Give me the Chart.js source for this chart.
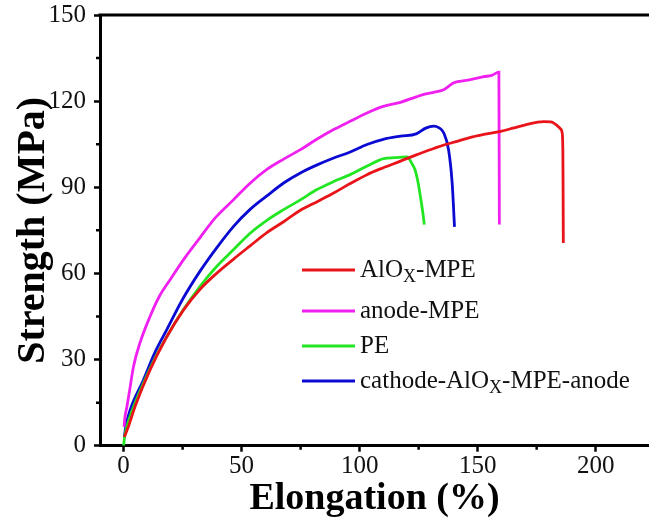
<!DOCTYPE html>
<html><head><meta charset="utf-8">
<script src="https://cdn.jsdelivr.net/npm/chart.js@4"></script>
<style>html,body{margin:0;padding:0;background:#fff}#wrap{width:649px;height:531px;position:relative}</style>
</head><body><div id="wrap"><canvas id="c"></canvas></div>
<script>
// ---- data ----
const seriesNames = ['AlOX-MPE', 'anode-MPE', 'PE', 'cathode-AlOX-MPE-anode'];
// legend label parts: [text, isSubscript]
const legendParts = [
  [['AlO', 0], ['X', 1], ['-MPE', 0]],
  [['anode-MPE', 0]],
  [['PE', 0]],
  [['cathode-AlO', 0], ['X', 1], ['-MPE-anode', 0]]
];
const seriesColors = ['#e8141a', '#f020f0', '#22e622', '#0a0ad2'];

const aloxX = [0.3, 2, 5, 11.2, 18, 25.4, 32.4, 39.5, 46.6, 53.6, 60.7, 67.8, 74.9, 82, 89, 96, 103.1, 110, 117.3, 124, 131.4, 136, 141.3, 147, 152.6, 159.7, 165, 171, 175, 178, 181, 183.7, 185.3, 185.8, 186.1, 186.2, 186.3];
const aloxY = [3, 6.6, 14, 26.4, 37.5, 47.3, 54.5, 60.1, 65, 69.6, 74.2, 78, 82, 85, 88, 91.3, 94.4, 96.8, 99.1, 101.3, 103.5, 104.8, 106, 107.4, 108.4, 109.5, 110.6, 111.9, 112.6, 112.9, 112.8, 111.5, 110.2, 109, 103.1, 90, 70.6];

const anodeX = [0.2, 0.5, 1.4, 2.5, 4.2, 7, 11.2, 15, 19.7, 26, 32.4, 39, 46.6, 53, 60.7, 67.8, 74.9, 82, 89, 96, 103.1, 110, 117.3, 124, 128, 131, 135.6, 139.9, 146, 152.6, 156, 159, 159.2];
const anodeY = [6.6, 9.5, 13.6, 19, 27.6, 36, 45, 51.8, 57.8, 65.5, 72.5, 79.5, 85.7, 91, 96.2, 99.8, 103.1, 106.8, 110.1, 113, 115.9, 118.2, 119.6, 121.5, 122.5, 123, 124, 126.4, 127.3, 128.5, 129, 130.1, 77];

const peX = [0, 0.5, 1.5, 3.5, 8.4, 13, 18.3, 25, 32.4, 39.5, 46.6, 53.6, 60.7, 67.8, 74.9, 81.9, 89, 96, 103, 110.2, 115, 118, 120.1, 122, 123.5, 124.8, 125.9, 126.8, 127.4];
const peY = [0, 3.5, 7, 12, 21.8, 30, 38, 47, 55.5, 62.5, 68.3, 74, 78.5, 82.2, 85.6, 89.2, 92, 94.4, 97.3, 100, 100.3, 100.5, 100.6, 98.5, 96, 91.5, 86, 81, 77];

const cathX = [0.3, 1, 3, 8.4, 13, 18.3, 25, 32.4, 39.5, 46.6, 53.6, 60.7, 67.8, 74.9, 82, 89, 96, 103.1, 110, 117.3, 124, 128, 131.4, 133.5, 135.6, 137.7, 139.2, 140.2];
const cathY = [3, 7, 13, 22.9, 32, 40.4, 51, 60.8, 69, 76.4, 82.3, 87, 91.5, 95, 97.8, 100.2, 102.3, 104.9, 106.7, 107.8, 108.6, 110.6, 111.3, 110.8, 109, 103, 91.5, 76.2];

const xTickValues = [0, 50, 100, 150, 200];
const xMinorValues = [25, 75, 125, 175];
const yTickValues = [0, 30, 60, 90, 120, 150];
const yMinorValues = [15, 45, 75, 105, 135];
const xRange = [-10, 222.6];
const yRange = [0, 150];

// ---- build ----
function pts(xs, ys) { return xs.map((x, i) => ({ x: x, y: ys[i] })); }
const allX = [aloxX, anodeX, peX, cathX];
const allY = [aloxY, anodeY, peY, cathY];

const FONT = "'Liberation Serif', 'Times New Roman', serif";

const datasets = seriesNames.map((n, i) => ({
  label: n,
  data: pts(allX[i], allY[i]),
  borderColor: seriesColors[i],
  backgroundColor: seriesColors[i],
  borderWidth: 2.8,
  pointRadius: 0,
  cubicInterpolationMode: 'monotone',
  fill: false
}));

const framePlugin = {
  id: 'frame',
  afterDraw(chart) {
    const ctx = chart.ctx, a = chart.chartArea;
    const xs = chart.scales.x, ys = chart.scales.y;
    ctx.save();
    ctx.strokeStyle = '#000';
    ctx.lineWidth = 3;
    ctx.beginPath();
    ctx.moveTo(a.left - 1.5, a.top);
    ctx.lineTo(a.right, a.top);
    ctx.stroke();
    ctx.lineWidth = 2.5;
    ctx.beginPath();
    xMinorValues.forEach(v => {
      const p = xs.getPixelForValue(v);
      ctx.moveTo(p, a.bottom); ctx.lineTo(p, a.bottom + 4);
    });
    yMinorValues.forEach(v => {
      const p = ys.getPixelForValue(v);
      ctx.moveTo(a.left, p); ctx.lineTo(a.left - 4, p);
    });
    ctx.stroke();
    ctx.restore();
  }
};

const legendPlugin = {
  id: 'customLegend',
  afterDraw(chart, args, opts) {
    const ctx = chart.ctx;
    ctx.save();
    legendParts.forEach((parts, i) => {
      const ly = opts.rows[i];
      ctx.strokeStyle = seriesColors[i];
      ctx.lineWidth = 3;
      ctx.beginPath();
      ctx.moveTo(opts.lineX0, ly);
      ctx.lineTo(opts.lineX1, ly);
      ctx.stroke();
      let x = opts.textX;
      const base = ly + opts.baseOff;
      ctx.fillStyle = '#111';
      ctx.textBaseline = 'alphabetic';
      ctx.textAlign = 'left';
      parts.forEach(([t, sub]) => {
        ctx.font = (sub ? opts.subSize : opts.size) + 'px ' + FONT;
        ctx.fillText(t, x, base + (sub ? opts.subDrop : 0));
        x += ctx.measureText(t).width;
      });
    });
    ctx.restore();
  }
};

new Chart(document.getElementById('c'), {
  type: 'line',
  data: { datasets: datasets },
  options: {
    responsive: true,
    maintainAspectRatio: false,
    animation: false,
    layout: { padding: { top: 15, right: 0, left: 0, bottom: 0 } },
    plugins: {
      legend: { display: false },
      tooltip: { enabled: false },
      customLegend: {
        rows: [270, 311, 346, 381],
        lineX0: 302, lineX1: 355, textX: 360, baseOff: 7,
        size: 25, subSize: 18, subDrop: 5
      }
    },
    scales: {
      x: {
        type: 'linear',
        min: xRange[0], max: xRange[1],
        afterBuildTicks: s => { s.ticks = xTickValues.map(v => ({ value: v })); },
        afterFit: s => { s.height = 85.3; s.paddingLeft = 0; s.paddingRight = 0; },
        grid: { display: true, drawOnChartArea: false, drawTicks: true, tickLength: 6, tickWidth: 2.5, tickColor: '#000' },
        border: { display: true, color: '#000', width: 3 },
        ticks: { color: '#111', font: { family: FONT, size: 25 }, padding: 0, maxRotation: 0 },
        title: { display: true, text: 'Elongation (%)', color: '#000', font: { family: FONT, size: 38, weight: 'bold' }, padding: { top: 0, bottom: 9 } }
      },
      y: {
        type: 'linear',
        min: yRange[0], max: yRange[1],
        afterBuildTicks: s => { s.ticks = yTickValues.map(v => ({ value: v })); },
        afterFit: s => { s.width = 100; s.paddingTop = 0; s.paddingBottom = 0; },
        grid: { display: true, drawOnChartArea: false, drawTicks: true, tickLength: 6, tickWidth: 2.5, tickColor: '#000' },
        border: { display: true, color: '#000', width: 3 },
        ticks: { color: '#111', font: { family: FONT, size: 25 }, padding: 8 },
        title: { display: true, text: 'Strength (MPa)', color: '#000', font: { family: FONT, size: 40, weight: 'bold' }, padding: { top: 9.4, bottom: 0 } }
      }
    }
  },
  plugins: [framePlugin, legendPlugin]
});
</script>
</body></html>
